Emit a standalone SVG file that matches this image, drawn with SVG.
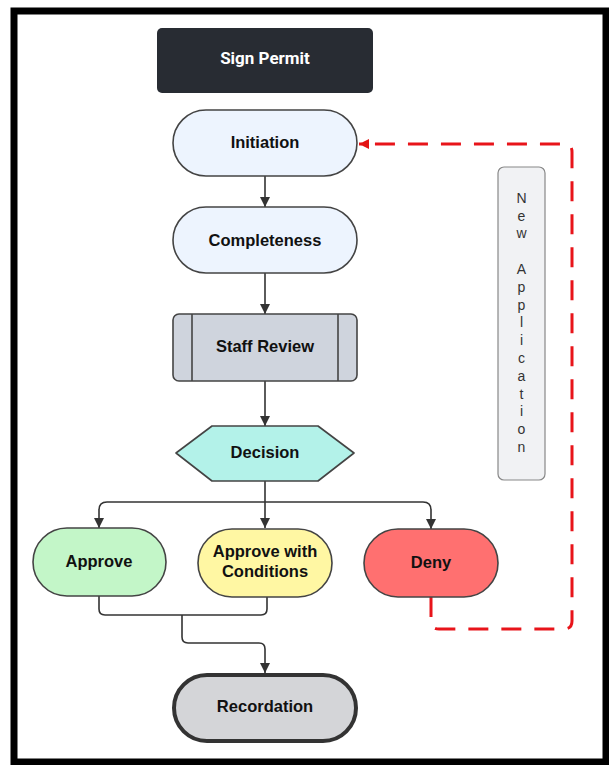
<svg xmlns="http://www.w3.org/2000/svg" width="609" height="765" viewBox="0 0 609 765">
<defs>
<marker id="ah" viewBox="0 0 10 10" refX="10" refY="5" markerWidth="10" markerHeight="10" markerUnits="userSpaceOnUse" orient="auto"><path d="M0,0 L10,5 L0,10 z" fill="#333"/></marker>
<marker id="ahr" viewBox="0 0 10 10" refX="10" refY="5" markerWidth="12" markerHeight="10" markerUnits="userSpaceOnUse" orient="auto"><path d="M0,0 L10,5 L0,10 z" fill="#e31414"/></marker>
</defs>
<style>
.n{stroke:#444;stroke-width:1.6}
.t{font-family:"Liberation Sans",Arial,sans-serif;font-weight:bold;font-size:16.5px;fill:#111;text-anchor:middle;dominant-baseline:central}
.c{fill:none;stroke:#333;stroke-width:1.6}
.v{font-family:"Liberation Sans",Arial,sans-serif;font-size:14px;fill:#333;text-anchor:middle;dominant-baseline:central}
</style>
<rect x="0" y="0" width="609" height="765" fill="#fff"/>
<rect x="14" y="11" width="592" height="751" fill="#fff" stroke="#000" stroke-width="7"/>
<g id="connectors">
<path class="c" d="M265,176 V207" marker-end="url(#ah)"/>
<path class="c" d="M265,273 V314" marker-end="url(#ah)"/>
<path class="c" d="M265,381 V426" marker-end="url(#ah)"/>
<path class="c" d="M265,481 V528" marker-end="url(#ah)"/>
<path class="c" d="M265,502 H107 Q99,502 99,510 V528" marker-end="url(#ah)"/>
<path class="c" d="M265,502 H423 Q431,502 431,510 V529" marker-end="url(#ah)"/>
<path class="c" d="M99,596 V609 Q99,615 105,615 H261 Q267,615 267,609 V597"/>
<path class="c" d="M182,615 V637 Q182,643 188,643 H259 Q265,643 265,649 V673" marker-end="url(#ah)"/>
<path d="M431,597 V621 Q431,629 439,629 H564 Q572,629 572,621 V152 Q572,144 564,144 H359" fill="none" stroke="#e8141a" stroke-width="3" stroke-dasharray="20 13" marker-end="url(#ahr)"/>
</g>
<g id="sign-permit"><rect x="157" y="28" width="216" height="65" rx="5" fill="#282c33"/><text x="265" y="58" font-family="Roboto,'Liberation Sans',sans-serif" font-weight="bold" font-size="17" fill="#fff" text-anchor="middle" dominant-baseline="central">Sign Permit</text></g>
<g id="initiation"><rect class="n" x="173" y="110" width="184" height="66" rx="33" fill="#edf4fe"/><text class="t" x="265" y="142">Initiation</text></g>
<g id="completeness"><rect class="n" x="173" y="207" width="184" height="66" rx="33" fill="#edf4fe"/><text class="t" x="265" y="240">Completeness</text></g>
<g id="staff-review"><rect class="n" x="173" y="314" width="184" height="67" rx="6" fill="#cfd4dd"/><line class="n" x1="192" y1="314" x2="192" y2="381"/><line class="n" x1="338" y1="314" x2="338" y2="381"/><text class="t" x="265" y="346">Staff Review</text></g>
<g id="decision"><path class="n" d="M176,453 L212,426 H318 L354,453 L318,481 H212 Z" fill="#b3f2e9" stroke-linejoin="round"/><text class="t" x="265" y="452">Decision</text></g>
<g id="approve"><rect class="n" x="33" y="528" width="133" height="68" rx="34" fill="#c3f6c8"/><text class="t" x="99" y="561">Approve</text></g>
<g id="approve-conditions"><rect class="n" x="198" y="529" width="134" height="68" rx="34" fill="#fff7a3"/><text class="t" x="265" y="551">Approve with</text><text class="t" x="265" y="571">Conditions</text></g>
<g id="deny"><rect class="n" x="364" y="529" width="134" height="68" rx="34" fill="#ff7070"/><text class="t" x="431" y="562">Deny</text></g>
<g id="recordation"><rect x="174" y="675" width="182" height="66" rx="33" fill="#d4d5d8" stroke="#333" stroke-width="4"/><text class="t" x="265" y="706">Recordation</text></g>
<g id="new-application"><rect x="498" y="167" width="47" height="313" rx="6" fill="#f1f2f4" stroke="#888" stroke-width="1.2"/>
<text class="v" x="521.5" y="198">N</text><text class="v" x="521.5" y="216">e</text><text class="v" x="521.5" y="233">w</text>
<text class="v" x="521.5" y="269">A</text><text class="v" x="521.5" y="287">p</text><text class="v" x="521.5" y="305">p</text><text class="v" x="521.5" y="322">l</text><text class="v" x="521.5" y="340">i</text><text class="v" x="521.5" y="358">c</text><text class="v" x="521.5" y="376">a</text><text class="v" x="521.5" y="394">t</text><text class="v" x="521.5" y="411">i</text><text class="v" x="521.5" y="429">o</text><text class="v" x="521.5" y="447">n</text></g>
</svg>
